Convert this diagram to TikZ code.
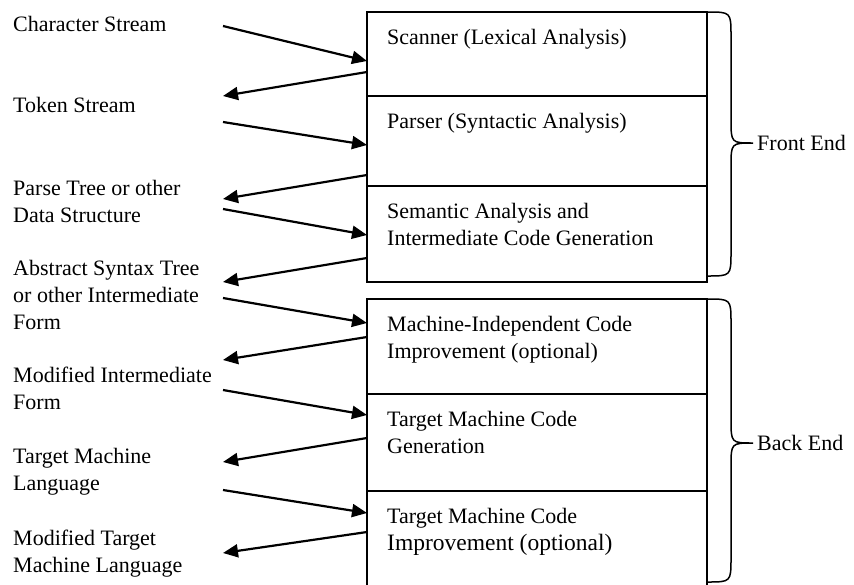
\documentclass[tikz,border=0pt]{standalone}
\usepackage{fontspec}
\setmainfont{Liberation Serif}
\usepackage{tikz}
\usetikzlibrary{calc}
\usetikzlibrary{arrows.meta}
\newcommand\stage[4]{
    \node[stagebox, minimum height=#3] (#1) at (367,#2) {};
    \node[stagetext] (#1t) at ($(#1.north west)+(20,13)$) {\strut #4};
}
\newcommand\curlybrace[4]{
    \def\bx{731}
    \draw[bracestyle] (707,#1) .. controls (\bx,#1) .. (\bx,#1+24)
        -- (\bx,#2-24) .. controls (\bx,#2) .. (753,#2)
        .. controls (\bx,#2) .. (\bx,#2+24)
        -- (\bx,#3-24) .. controls (\bx,#3) .. (707,#3);
    \node[anchor=west, inner sep=0pt, font=\fontsize{22}{27}\selectfont] (#4) at (757,#2) {};
}
\begin{document}
\begin{tikzpicture}[
        x=1pt, y=-1pt,
        stagebox/.style={draw, line width=2pt, minimum width=340pt, anchor=north west, inner sep=0pt, outer sep=0pt},
        stagetext/.style={anchor=north west, inner sep=0pt, align=left, font=\fontsize{22}{27}\selectfont},
        lbl/.style={anchor=north west, inner sep=0pt, align=left, font=\fontsize{22}{27}\selectfont},
        flow/.style={-{Triangle[length=15pt, width=13pt]}, line width=2.2pt},
        bracestyle/.style={line width=1.5pt}
    ]
    \useasboundingbox (0,0) rectangle (854,584);

    \stage{scan}{12}{84}{Scanner (Lexical Analysis)}
    \stage{parse}{96}{90}{Parser (Syntactic Analysis)}
    \stage{sema}{186}{96}{Semantic Analysis and\\Intermediate Code Generation}
    \stage{mind}{299}{95}{Machine-Independent Code\\Improvement (optional)}
    \stage{tgen}{394}{97}{Target Machine Code\\Generation}
    \stage{timp}{491}{110}{Target Machine Code\\{\fontsize{23.5}{29}\selectfont Improvement (optional)}}

    \node[lbl] (chars) at (13,12) {\strut Character Stream};
    \node[lbl] (tokens) at (13,93) {\strut Token Stream};
    \node[lbl] (ptree) at (13,176) {\strut Parse Tree or other\\Data Structure};
    \node[lbl] (ast) at (13,256) {\strut Abstract Syntax Tree\\or other Intermediate\\Form};
    \node[lbl] (mif) at (13,363) {\strut Modified Intermediate\\Form};
    \node[lbl] (tml) at (13,444) {\strut Target Machine\\Language};
    \node[lbl] (mtml) at (13,526) {\strut Modified Target\\Machine Language};

    \foreach \s/\a/\b/\c/\d in {scan/14/49/60/84, parse/26/49/79/103, sema/23/49/72/96,
        mind/-1/24/38/61, tgen/-4/21/44/68, timp/-1/22/41/62}
    {
        \draw[flow] ($(\s.north west)+(-144,\a)$) -- ($(\s.north west)+(0,\b)$);
        \draw[flow] ($(\s.north west)+(0,\c)$) -- ($(\s.north west)+(-144,\d)$);
    }

    \curlybrace{12}{143}{276}{front}
    \node[anchor=west, inner sep=0pt, font=\fontsize{22}{27}\selectfont] at (front.west) {Front End};
    \curlybrace{299}{443}{582}{back}
    \node[anchor=west, inner sep=0pt, font=\fontsize{22}{27}\selectfont] at (back.west) {Back End};
\end{tikzpicture}
\end{document}
